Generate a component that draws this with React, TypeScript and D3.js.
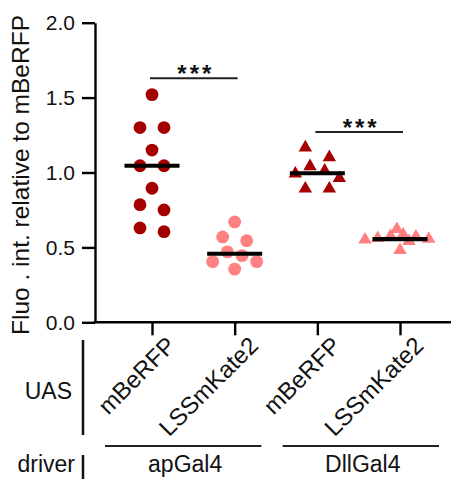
import React, { useRef, useEffect } from "react";
import * as d3 from "d3";

// groups on the x axis (UAS construct within each driver)
const categories = ["ap_mBeRFP", "ap_LSSmKate2", "dll_mBeRFP", "dll_LSSmKate2"];
const uasLabels = ["mBeRFP", "LSSmKate2", "mBeRFP", "LSSmKate2"];
const drivers = ["apGal4", "DllGal4"];
const yTicks = [0, 0.5, 1.0, 1.5, 2.0];

// fluorescence intensity relative to mBeRFP, one value per animal
const apMBeRFP = [1.52, 1.3, 1.3, 1.15, 1.045, 1.045, 0.895, 0.785, 0.75, 0.63, 0.605];
const apLSSmKate2 = [0.67, 0.57, 0.545, 0.47, 0.445, 0.405, 0.405, 0.355];
const dllMBeRFP = [1.16, 1.095, 1.035, 1.005, 0.985, 0.955, 0.885, 0.885];
const dllLSSmKate2 = [0.615, 0.58, 0.57, 0.565, 0.555, 0.55, 0.545, 0.535, 0.475];

const sigPairs = [
  [0, 1],
  [2, 3],
];
const sigLabels = ["***", "***"];

const FONT = "Arial, 'Liberation Sans', Helvetica, sans-serif";
const DARK = "#A50000";
const LIGHT = "#FF8080";

const App = () => {
  const d3Container = useRef(null);

  useEffect(() => {
    if (!d3Container.current) return;
    const svg = d3.select(d3Container.current);
    svg.selectAll("*").remove();

    const series = [apMBeRFP, apLSSmKate2, dllMBeRFP, dllLSSmKate2];
    const colors = [DARK, LIGHT, DARK, LIGHT];
    const shapes = ["circle", "circle", "triangle", "triangle"];

    const axisX = 95,
      axisY = 322.3,
      axisEnd = 451;

    const y = d3.scaleLinear().domain([0, 2]).range([axisY, 22.7]);
    const x = d3.scalePoint().domain(categories).range([152, 400]);
    const xDriver = d3.scaleBand().domain(drivers).range([105, 439]).paddingInner(0.12);

    // Y axis
    const gy = svg
      .append("g")
      .attr("transform", `translate(${axisX},0)`)
      .call(
        d3
          .axisLeft(y)
          .tickValues(yTicks)
          .tickFormat(d3.format(".1f"))
          .tickSize(13)
          .tickSizeOuter(0)
          .tickPadding(7)
      );
    gy.select(".domain").attr("stroke", "#000").attr("stroke-width", 2.4);
    gy.selectAll(".tick line").attr("stroke", "#000").attr("stroke-width", 2.4);
    gy.selectAll(".tick text")
      .attr("font-family", FONT)
      .attr("font-size", 21)
      .attr("fill", "#111");

    // X axis
    const gx = svg
      .append("g")
      .attr("transform", `translate(0,${axisY})`)
      .call(d3.axisBottom(x).tickSize(13).tickSizeOuter(0).tickFormat(() => ""));
    gx.select(".domain")
      .attr("d", `M${axisX - 1.2},0H${axisEnd}`)
      .attr("stroke", "#000")
      .attr("stroke-width", 2.4);
    gx.selectAll(".tick line").attr("stroke", "#000").attr("stroke-width", 2.4);

    // rotated UAS labels
    svg
      .selectAll(".uas-label")
      .data(categories)
      .enter()
      .append("text")
      .attr("class", "uas-label")
      .attr("transform", (d) => `translate(${x(d) + 25},347) rotate(-45)`)
      .attr("text-anchor", "end")
      .attr("font-family", FONT)
      .attr("font-size", 24)
      .attr("fill", "#111")
      .text((d, i) => uasLabels[i]);

    // Y axis title
    svg
      .append("text")
      .attr("transform", `translate(29,175) rotate(-90)`)
      .attr("text-anchor", "middle")
      .attr("font-family", FONT)
      .attr("font-size", 24.5)
      .attr("fill", "#111")
      .text("Fluo . int. relative to mBeRFP");

    // beeswarm: bin by height, spread each bin symmetrically from the centre out
    const swarm = (values, cx, r) => {
      const pts = values
        .map((v) => ({ v, py: y(v), px: cx }))
        .sort((a, b) => a.py - b.py);
      const bins = [];
      pts.forEach((p) => {
        const last = bins[bins.length - 1];
        if (last && p.py - last[0].py < 14) last.push(p);
        else bins.push([p]);
      });
      const placed = [];
      bins.forEach((bin) => {
        const n = bin.length;
        const spacing = n > 1 ? Math.min(24, 44 / (n - 1)) : 0;
        const slots = d3
          .range(n)
          .map((i) => (i - (n - 1) / 2) * spacing)
          .sort((a, b) => Math.abs(a) - Math.abs(b) || a - b);
        bin.forEach((p, i) => {
          let off = slots[i];
          let k = 1;
          const hits = (o) =>
            placed.some((q) => Math.hypot(q.px - (cx + o), q.py - p.py) < r * 1.2);
          const base = off;
          while (hits(off) && k < 20) {
            off = base + (k % 2 ? -1 : 1) * Math.ceil(k / 2) * r;
            k++;
          }
          p.px = cx + off;
          placed.push(p);
        });
      });
      return placed;
    };

    const marks = svg.append("g");
    series.forEach((vals, gi) => {
      const cx = x(categories[gi]);
      const pts = swarm(vals, cx, 6.5);
      if (shapes[gi] === "circle") {
        marks
          .selectAll(`.dot-${gi}`)
          .data(pts)
          .enter()
          .append("circle")
          .attr("class", `dot-${gi}`)
          .attr("cx", (d) => d.px)
          .attr("cy", (d) => d.py)
          .attr("r", 6.4)
          .attr("fill", colors[gi]);
      } else {
        const tri = d3.symbol().type(d3.symbolTriangle).size(78);
        marks
          .selectAll(`.dot-${gi}`)
          .data(pts)
          .enter()
          .append("path")
          .attr("class", `dot-${gi}`)
          .attr("transform", (d) => `translate(${d.px},${d.py - 1})`)
          .attr("d", tri())
          .attr("fill", colors[gi]);
      }
    });

    // median lines
    svg
      .selectAll(".median")
      .data(series)
      .enter()
      .append("line")
      .attr("class", "median")
      .attr("x1", (d, i) => x(categories[i]) - 27.5)
      .attr("x2", (d, i) => x(categories[i]) + 27.5)
      .attr("y1", (d) => y(d3.median(d)))
      .attr("y2", (d) => y(d3.median(d)))
      .attr("stroke", "#000")
      .attr("stroke-width", 4.2);

    // significance bars
    sigPairs.forEach(([a, b], i) => {
      const top = d3.max([...series[a], ...series[b]]) + 0.11;
      const x1 = x(categories[a]) - 2;
      const x2 = x(categories[b]) + 3;
      svg
        .append("line")
        .attr("x1", x1)
        .attr("x2", x2)
        .attr("y1", y(top))
        .attr("y2", y(top))
        .attr("stroke", "#222")
        .attr("stroke-width", 2);
      svg
        .append("text")
        .attr("x", (x1 + x2) / 2 + 2)
        .attr("y", y(top) + 4)
        .attr("text-anchor", "middle")
        .attr("font-family", FONT)
        .attr("font-size", 24)
        .attr("font-weight", "bold")
        .attr("letter-spacing", 3)
        .attr("fill", "#111")
        .text(sigLabels[i]);
    });

    // UAS / driver annotation rows
    svg
      .append("text")
      .attr("x", 72)
      .attr("y", 399)
      .attr("text-anchor", "end")
      .attr("font-family", FONT)
      .attr("font-size", 23)
      .attr("fill", "#111")
      .text("UAS");
    svg
      .append("line")
      .attr("x1", 83)
      .attr("x2", 83)
      .attr("y1", 340)
      .attr("y2", 435)
      .attr("stroke", "#111")
      .attr("stroke-width", 2.5);

    svg
      .append("text")
      .attr("x", 75)
      .attr("y", 471.7)
      .attr("text-anchor", "end")
      .attr("font-family", FONT)
      .attr("font-size", 23)
      .attr("fill", "#111")
      .text("driver");
    svg
      .append("line")
      .attr("x1", 83)
      .attr("x2", 83)
      .attr("y1", 455)
      .attr("y2", 479)
      .attr("stroke", "#111")
      .attr("stroke-width", 2.5);

    drivers.forEach((name) => {
      const x1 = xDriver(name);
      const x2 = x1 + xDriver.bandwidth();
      svg
        .append("line")
        .attr("x1", x1)
        .attr("x2", x2)
        .attr("y1", 446)
        .attr("y2", 446)
        .attr("stroke", "#222")
        .attr("stroke-width", 2);
      svg
        .append("text")
        .attr("x", (x1 + x2) / 2 + 2)
        .attr("y", 471.7)
        .attr("text-anchor", "middle")
        .attr("font-family", FONT)
        .attr("font-size", 23)
        .attr("fill", "#111")
        .text(name);
    });
  }, []);

  return (
    <svg
      ref={d3Container}
      width={451}
      height={479}
      style={{ position: "absolute", left: 0, top: 0, background: "#fff" }}
    />
  );
};

export default App;
